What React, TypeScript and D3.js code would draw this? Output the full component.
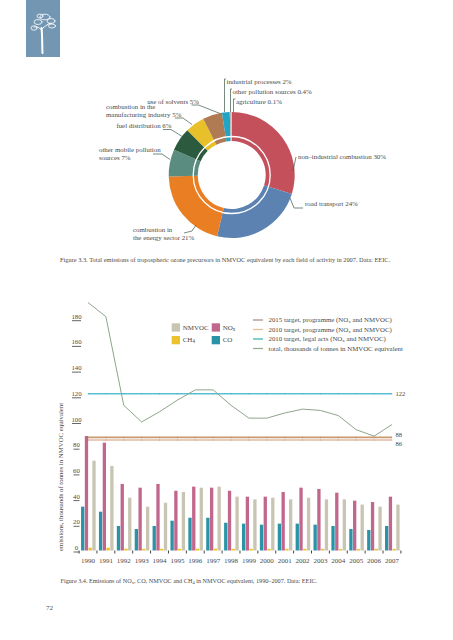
import React from "react";
import * as d3 from "d3";

// ---------- Donut data (Figure 3.3) ----------
const sectors = [
  "non-industrial combustion",
  "road transport",
  "combustion in the energy sector",
  "other mobile pollution sources",
  "fuel distribution",
  "combustion in the manufacturing industry",
  "use of solvents",
  "industrial processes",
  "other pollution sources",
  "agriculture",
];
const sectorShares = [30, 24, 21, 7, 6, 5, 5, 2, 0.4, 0.1];
const sectorColors = [
  "#c4505c", "#5b82b0", "#e97e22", "#5b8c80", "#2b5a3e",
  "#e8c12a", "#b07a52", "#22a4c4", "#b8b8b8", "#d8d8d8",
];

// ---------- Bar/line data (Figure 3.4) ----------
const years = [
  1990, 1991, 1992, 1993, 1994, 1995, 1996, 1997, 1998,
  1999, 2000, 2001, 2002, 2003, 2004, 2005, 2006, 2007,
];
const coValues = [34.1, 30.2, 19.1, 16.7, 19.1, 23.2, 25.5, 25.5, 21.6, 20.9, 20.1, 20.9, 20.9, 20.1, 19.1, 16.7, 16.0, 19.1];
const noxValues = [89.1, 83.9, 51.8, 48.9, 51.8, 46.5, 49.7, 48.9, 46.5, 41.9, 41.9, 45.5, 48.9, 47.9, 45.0, 38.8, 37.7, 41.9];
const ch4Values = [2.2, 2.2, 1.4, 1.3, 1.3, 1.3, 1.4, 1.4, 1.3, 1.3, 1.3, 1.3, 1.3, 1.3, 1.2, 1.2, 1.3, 1.3];
const nmvocValues = [69.9, 65.8, 41.1, 34.1, 37.2, 45.5, 48.9, 49.7, 41.9, 39.8, 41.1, 39.8, 41.1, 39.8, 39.8, 35.7, 34.1, 35.7];
const totalValues = [193, 182, 113, 100, 108, 117, 125, 125, 113, 103, 103, 107, 110, 109, 105, 94, 89, 98];
const yTicks = [0, 20, 40, 60, 80, 100, 120, 140, 160, 180];
const targetLegal2010 = 122;
const targetProg2015 = 88;
const targetProg2010 = 86;

const seriesKeys = ["CO", "NOx", "CH4", "NMVOC"];
const seriesColors: Record<string, string> = {
  CO: "#2a93a6",
  NOx: "#c2678c",
  CH4: "#ecc22e",
  NMVOC: "#c9c5b3",
};

const FONT = "'Liberation Serif', 'DejaVu Serif', serif";
const TXT = "#4a4a4a";

function Sub({ base, sub }: { base: string; sub: string }) {
  return (
    <>
      {base}
      <tspan baselineShift="-22%" fontSize="0.72em">{sub}</tspan>
    </>
  );
}

export default function App() {
  // Donut
  const cx = 231.7, cy = 175;
  const pie = d3.pie<number>().sort(null).value((d) => d);
  const arcs = pie(sectorShares);
  const arcGen = d3.arc<d3.PieArcDatum<number>>().innerRadius(34).outerRadius(63);

  // Donut label layout
  const donutLabels = [
    { lines: ["non–industrial combustion 30%"], x: 298, y: 159, anchor: "start", leader: [[296, 157], [293, 171]] },
    { lines: ["road transport 24%"], x: 305, y: 206, anchor: "start", leader: [[303, 208], [294, 208], [290, 198]] },
    { lines: ["combustion in", "the energy sector 21%"], x: 133, y: 232, anchor: "start", leader: [[184, 233], [192, 231], [196, 225]] },
    { lines: ["other mobile pollution", "sources 7%"], x: 99, y: 152, anchor: "start", leader: [[153, 154], [162, 154], [170, 159.5]] },
    { lines: ["fuel distribution 6%"], x: 171.5, y: 128, anchor: "end", leader: [[163, 129.5], [171, 129.5], [183, 137]] },
    { lines: ["combustion in the", "manufacturing industry 5%"], x: 106, y: 109, anchor: "start", leader: [[175, 118], [183, 118], [192, 124.5]] },
    { lines: ["use of solvents 5%"], x: 199, y: 104, anchor: "end", leader: [[191.5, 105], [198.5, 105], [220, 113.5]] },
    { lines: ["industrial processes 2%"], x: 226.5, y: 84, anchor: "start", leader: [[226, 79], [224.5, 79], [224.5, 112]] },
    { lines: ["other pollution sources 0.4%"], x: 232.5, y: 94, anchor: "start", leader: [[232, 89], [230.5, 89], [230.5, 112]] },
    { lines: ["agriculture 0.1%"], x: 236, y: 104, anchor: "start", leader: [[235.5, 99], [233.5, 99], [233.5, 112]] },
  ];

  // Bar chart scales
  const x = d3.scaleBand<number>().domain(years).range([79.06, 400.9]);
  const xi = d3.scaleBand<string>().domain(seriesKeys).range([2, 16.6]).paddingInner(0.12);
  const y = d3.scaleLinear().domain([0, 180]).range([550.5, 319.2]);
  const seriesVals: Record<string, number[]> = {
    CO: coValues, NOx: noxValues, CH4: ch4Values, NMVOC: nmvocValues,
  };
  const cxYear = (yr: number) => (x(yr) as number) + x.bandwidth() / 2;
  const line = d3.line<number>().x((_, i) => cxYear(years[i])).y((d) => y(d));
  const x0 = cxYear(years[0]);
  const x1 = cxYear(years[years.length - 1]);

  const targets = [
    { v: targetLegal2010, color: "#58bfd6", label: "122", dy: 2 },
    { v: targetProg2015, color: "#c99a6e", label: "88", dy: -1 },
    { v: targetProg2010, color: "#e3b9a3", label: "86", dy: 5.5 },
  ];

  const lineLegend = [
    { color: "#a48c7c", text: <>2015 target, programme (<Sub base="NO" sub="x" /> and NMVOC)</> },
    { color: "#e8bb90", text: <>2010 target, programme (<Sub base="NO" sub="x" /> and NMVOC)</> },
    { color: "#2fb0a8", text: <>2010 target, legal acts (<Sub base="NO" sub="x" /> and NMVOC)</> },
    { color: "#93a98f", text: <>total, thousands of tonnes in NMVOC equivalent</> },
  ];

  return (
    <div style={{ position: "fixed", left: 0, top: 0 }}>
      <svg width={453} height={640} style={{ display: "block", background: "#fff" }} fontFamily={FONT}>
        {/* Logo */}
        <rect x={26} y={0} width={34} height={57} fill="#7397b2" />
        <g stroke="#fff" fill="none" strokeLinecap="round">
          <path d="M42.5 53 C42 45 42.5 36 41.5 28" strokeWidth={2} />
          <path d="M41.5 30 C39 27 36 26 34 27" strokeWidth={1} />
          <path d="M42 29 C45 26 48 24 51 23" strokeWidth={1} />
          <ellipse cx={38} cy={22} rx={4} ry={2.5} strokeWidth={0.8} />
          <ellipse cx={45} cy={17} rx={5} ry={2.8} strokeWidth={0.8} />
          <ellipse cx={51} cy={21} rx={4} ry={2.5} strokeWidth={0.8} />
          <ellipse cx={34} cy={28} rx={3} ry={2.2} strokeWidth={0.8} />
          <ellipse cx={52} cy={26} rx={3.5} ry={2} strokeWidth={0.8} />
          <ellipse cx={40} cy={16} rx={3} ry={2} strokeWidth={0.8} />
        </g>

        {/* Donut */}
        <g transform={`translate(${cx},${cy})`}>
          {arcs.map((a, i) => (
            <path key={sectors[i]} d={arcGen(a) || ""} fill={sectorColors[i]} />
          ))}
          <circle r={38.5} fill="none" stroke="#fff" strokeWidth={1.3} />
        </g>
        {donutLabels.map((l, i) => (
          <g key={i}>
            <polyline points={l.leader.map((p) => p.join(",")).join(" ")} fill="none" stroke="#3c5a4a" strokeWidth={0.7} />
            {l.lines.map((t, j) => (
              <text key={j} x={l.x} y={l.y + j * 7.6} fontSize={6.9} fill={TXT} textAnchor={l.anchor as any}>{t}</text>
            ))}
          </g>
        ))}
        <text x={60} y={262} fontSize={6.35} fill={TXT}>
          Figure 3.3. Total emissions of tropospheric ozone precursors in NMVOC equivalent by each field of activity in 2007. Data: EEIC.
        </text>

        {/* Y axis */}
        {yTicks.map((t) => (
          <g key={t}>
            <text x={76.5} y={y(t) - 0.5} fontSize={6.8} fill={TXT} textAnchor="middle">{t}</text>
            <line x1={t < 100 ? 73.5 : 72} x2={t < 100 ? 79.5 : 81} y1={y(t) + 1.5} y2={y(t) + 1.5} stroke="#555" strokeWidth={0.9} />
          </g>
        ))}
        <text transform={`translate(63,${477}) rotate(-90)`} fontSize={6.8} fill={TXT} textAnchor="middle">
          emissions, thousands of tonnes in NMVOC equivalent
        </text>

        {/* Bars */}
        {years.map((yr, i) => (
          <g key={yr} transform={`translate(${x(yr)},0)`}>
            {seriesKeys.map((k) => (
              <rect key={k} x={xi(k)} y={y(seriesVals[k][i])} width={xi.bandwidth()} height={y(0) - y(seriesVals[k][i])} fill={seriesColors[k]} />
            ))}
          </g>
        ))}

        {/* X axis */}
        {years.map((yr) => (
          <text key={yr} x={cxYear(yr)} y={563} fontSize={7} fill={TXT} textAnchor="middle">{yr}</text>
        ))}
        {[...years, 2008].map((yr, i) => (
          <line key={yr} x1={79.06 + i * x.step()} x2={79.06 + i * x.step()} y1={550.5} y2={553.5} stroke="#444" strokeWidth={1} />
        ))}

        {/* Target lines */}
        {targets.map((t) => (
          <g key={t.label}>
            <line x1={x0} x2={x1} y1={y(t.v)} y2={y(t.v)} stroke={t.color} strokeWidth={1.6} />
            {years.map((yr) => (
              <line key={yr} x1={cxYear(yr)} x2={cxYear(yr)} y1={y(t.v) - 0.8} y2={y(t.v) + 0.8} stroke="#000" strokeWidth={1} strokeOpacity={0.12} />
            ))}
            <text x={x1 + 3.5} y={y(t.v) + t.dy + 0.5} fontSize={6.6} fill={TXT}>{t.label}</text>
          </g>
        ))}

        {/* Total line */}
        <path d={line(totalValues) || ""} fill="none" stroke="#8fa58c" strokeWidth={1} />

        {/* Bar legend */}
        {[
          { k: "NMVOC", lx: 171.7, ly: 323.3, label: <>NMVOC</> },
          { k: "NOx", lx: 211.7, ly: 323.3, label: <Sub base="NO" sub="x" /> },
          { k: "CH4", lx: 171.7, ly: 336, label: <Sub base="CH" sub="4" /> },
          { k: "CO", lx: 211.7, ly: 336, label: <>CO</> },
        ].map((l) => (
          <g key={l.k}>
            <rect x={l.lx} y={l.ly} width={8.3} height={8.3} fill={seriesColors[l.k]} />
            <text x={l.lx + 11} y={l.ly + 6.3} fontSize={7} fill={TXT}>{l.label}</text>
          </g>
        ))}

        {/* Line legend */}
        {lineLegend.map((l, i) => (
          <g key={i}>
            <line x1={253} x2={263} y1={320 + i * 9.5} y2={320 + i * 9.5} stroke={l.color} strokeWidth={1.2} />
            <text x={268.5} y={322.3 + i * 9.5} fontSize={6.85} fill={TXT}>{l.text}</text>
          </g>
        ))}

        {/* Caption */}
        <text x={60.5} y={583} fontSize={6.2} fill={TXT}>
          Figure 3.4. Emissions of <Sub base="NO" sub="x" />, CO, NMVOC and <Sub base="CH" sub="4" /> in NMVOC equivalent, 1990–2007. Data: EEIC.
        </text>

        {/* Page number */}
        <text x={46} y={610} fontSize={7} fill={TXT}>72</text>
      </svg>
    </div>
  );
}
